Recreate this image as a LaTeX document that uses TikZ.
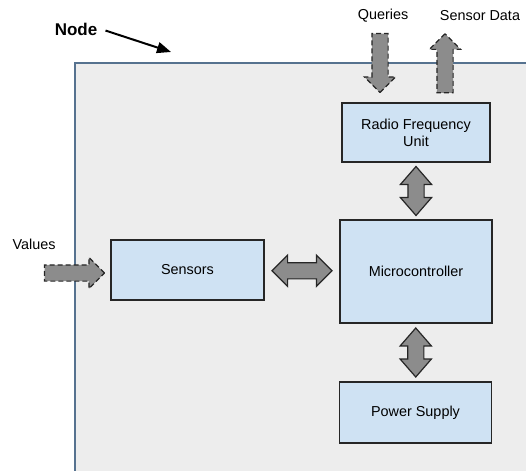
\documentclass[tikz,border=0pt]{standalone}
\usepackage{fontspec}
\setmainfont{Liberation Sans}
\usetikzlibrary{shapes.arrows, arrows.meta, positioning, calc}

\definecolor{boxblue}{HTML}{CFE2F3}
\definecolor{nodegray}{HTML}{EDEDED}
\definecolor{nodeedge}{HTML}{56728F}
\definecolor{arrowgray}{HTML}{8C8C8C}

\tikzset{
  block/.style={draw=black!85, fill=boxblue, line width=1.2pt, align=center, inner sep=0pt},
  fatarrow/.style={single arrow, draw=black!85, fill=arrowgray, line width=1.2pt, inner sep=7.5pt,
    minimum width=30pt, minimum height=60pt, single arrow head extend=7.5pt, single arrow tip angle=90,
    dash pattern=on 5pt off 3pt},
  dblarrow/.style={double arrow, draw=black!85, fill=arrowgray, line width=1.2pt, inner sep=7.5pt,
    minimum width=30pt, double arrow head extend=7.5pt, double arrow tip angle=90}
}

\begin{document}
\begin{tikzpicture}[x=1pt, y=-1pt, font=\fontsize{14.4}{17}\selectfont]
\useasboundingbox (0,0) rectangle (526,470);

% the sensor node itself, running off the page
\begin{scope}
\clip (0,0) rectangle (526,470);
\draw[nodeedge, fill=nodegray, line width=1.5pt] (75,63) rectangle (560,500);
\end{scope}

% blocks
\node[block, minimum width=148pt, minimum height=59pt] (rf) at (416,132.5) {Radio Frequency\\Unit};
\node[block, minimum width=152pt, minimum height=103pt] (micro) at (416,271.5) {Microcontroller};
\node[block, minimum width=153pt, minimum height=60pt] (sensors) at (187.5,270) {Sensors};
\node[block, minimum width=152pt, minimum height=61pt] (power) at (415.5,412.5) {Power Supply};

% outside labels
\node[font=\fontsize{17}{20}\selectfont\bfseries] (nodelbl) at (76,29) {Node};
\node (qlbl) at (383,16) {Queries};
\node (sdlbl) at (480,16) {Sensor Data};
\node (vlbl) at (34,244) {Values};

\coordinate (nodetip) at (171,52);
\draw[line width=2pt, shorten <=5pt, -{Triangle[length=14pt, width=11pt]}] (nodelbl.east) -- (nodetip);

% inputs and outputs
\node[fatarrow, shape border rotate=270, minimum height=59pt, anchor=tip] (qarr) at ($(rf.north)+(-36,-9)$) {};
\node[fatarrow, shape border rotate=90, minimum height=59pt, anchor=tail] (sdarr) at ($(rf.north)+(29,-9)$) {};
\node[fatarrow, anchor=tip] (varr) at ($(sensors.west)+(-5,3)$) {};

% internal links
\node[dblarrow, minimum height=60pt] (a1) at ($(sensors.east)!0.5!(micro.west)$) {};
\node[dblarrow, shape border rotate=90, double arrow tip angle=82, minimum height=49pt] (a2) at ($(rf.south)!0.5!(micro.north)$) {};
\node[dblarrow, shape border rotate=90, double arrow tip angle=82, minimum height=49pt] (a3) at ($(micro.south)!0.5!(power.north)$) {};
\end{tikzpicture}
\end{document}
